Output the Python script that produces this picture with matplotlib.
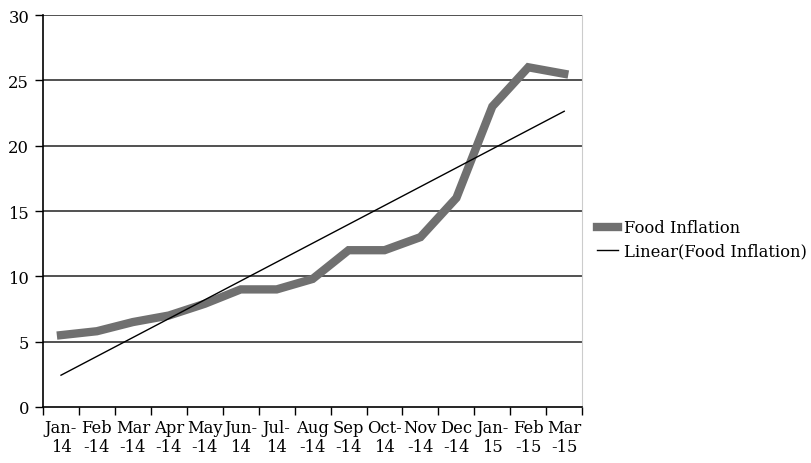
import matplotlib.pyplot as plt
import numpy as np

months = ['Jan-\n14', 'Feb\n-14', 'Mar\n-14', 'Apr\n-14', 'May\n-14', 'Jun-\n14', 'Jul-\n14',
          'Aug\n-14', 'Sep\n-14', 'Oct-\n14', 'Nov\n-14', 'Dec\n-14', 'Jan-\n15', 'Feb\n-15', 'Mar\n-15']
food_inflation = [5.5, 5.8, 6.5, 7.0, 7.9, 9.0, 9.0, 9.8, 12.0, 12.0, 13.0, 16.0, 23.0, 26.0, 25.5]
y_ticks = [0, 5, 10, 15, 20, 25, 30]

plt.rcParams['font.family'] = ['DejaVu Serif']

x = np.arange(len(months))
# linear trend line of the series
coef = np.polyfit(x, food_inflation, 1)
trend = np.polyval(coef, x)

fig = plt.figure(figsize=(8.12, 4.64), dpi=100)
ax = fig.add_axes([0.053, 0.1207, 0.664, 0.8448])

for yv in y_ticks[1:]:
    ax.axhline(yv, color='#333333', lw=1.2, zorder=1)

ax.plot(x, food_inflation, color='#707070', lw=6, solid_joinstyle='miter', label='Food Inflation', zorder=3)
ax.plot(x, trend, color='black', lw=1, label='Linear(Food Inflation)', zorder=4)

ax.set_xlim(-0.5, len(months) - 0.5)
ax.set_ylim(0, 30)
ax.set_yticks(y_ticks)
ax.set_xticks(x)
ax.set_xticklabels(months, fontsize=11.8, linespacing=1.15)
ax.set_xticks(np.arange(-0.5, len(months)), minor=True)
ax.tick_params(axis='x', which='major', length=0, pad=9)
ax.tick_params(axis='x', which='minor', length=6, width=1, color='black')
ax.tick_params(axis='y', length=6, width=1, labelsize=11.8, pad=4)

ax.spines['top'].set_visible(False)
ax.spines['right'].set_color('#cccccc')
ax.spines['left'].set_linewidth(1.2)
ax.spines['bottom'].set_linewidth(1.2)

fig.legend(loc='upper left', bbox_to_anchor=(0.717, 0.557), frameon=False, fontsize=11.8,
           handlelength=1.3, handletextpad=0.35, labelspacing=0.4)

plt.savefig('out.png', dpi=100)
